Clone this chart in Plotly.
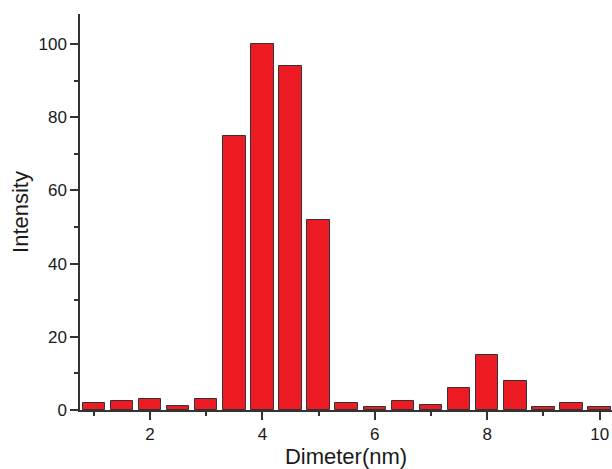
import plotly.graph_objects as go

diameter = [1.0, 1.5, 2.0, 2.5, 3.0, 3.5, 4.0, 4.5, 5.0, 5.5, 6.0, 6.5, 7.0, 7.5, 8.0, 8.5, 9.0, 9.5, 10.0]
intensity = [1.9, 2.5, 2.9, 1.2, 2.9, 75, 100, 94, 52, 1.9, 0.9, 2.5, 1.5, 6.0, 15, 8, 0.9, 1.9, 0.9]

fig = go.Figure(go.Bar(
    x=diameter, y=intensity, width=0.4,
    marker=dict(color="#ED1C24", line=dict(color="#333333", width=1)),
))

font = "Liberation Sans, Arial, sans-serif"
tickfont = dict(family=font, size=17, color="#1a1a1a")
fig.update_layout(
    width=612, height=469,
    margin=dict(l=80, r=0, t=14, b=59, autoexpand=False),
    plot_bgcolor="white", paper_bgcolor="white",
    showlegend=False, bargap=0,
    font=dict(family=font, size=17, color="#1a1a1a"),
)
fig.update_xaxes(
    range=[0.755, 10.22], tick0=0, dtick=2, automargin=False,
    showline=True, linecolor="#333333", linewidth=1.5,
    ticks="outside", ticklen=8, tickwidth=1.5, tickcolor="#333333",
    tickfont=tickfont,
    minor=dict(dtick=1, tick0=0, ticks="outside", ticklen=4, tickwidth=1.5, tickcolor="#333333"),
    showgrid=False, zeroline=False,
    title=dict(text="Dimeter(nm)", font=dict(size=22, family=font, color="#1a1a1a"), standoff=4),
)
fig.update_yaxes(
    range=[0, 108.2], tick0=0, dtick=20, automargin=False,
    showline=True, linecolor="#333333", linewidth=1.5,
    ticks="outside", ticklen=8, tickwidth=1.5, tickcolor="#333333",
    tickfont=tickfont,
    minor=dict(dtick=10, tick0=0, ticks="outside", ticklen=4, tickwidth=1.5, tickcolor="#333333"),
    showgrid=False, zeroline=False,
    title=dict(text="Intensity", font=dict(size=22, family=font, color="#1a1a1a"), standoff=4),
)

fig.write_html("out.html", config={"displayModeBar": False},
               post_script="document.body.style.margin='0';")
